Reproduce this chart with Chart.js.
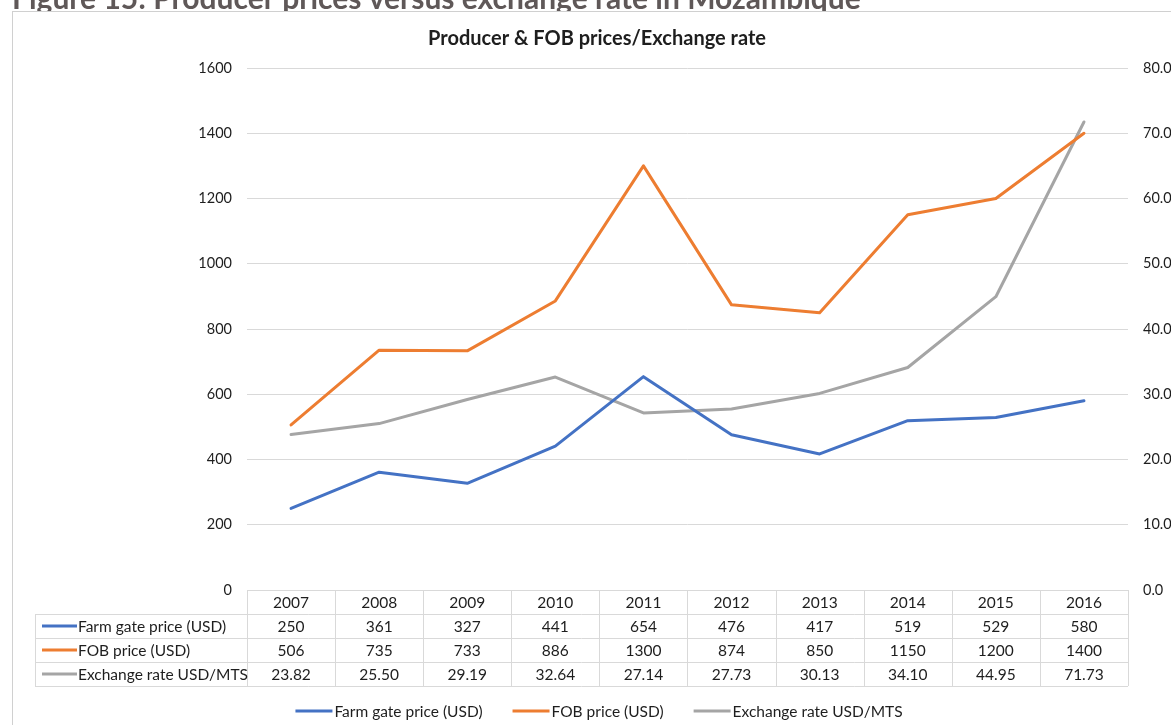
<!DOCTYPE html>
<html>
<head>
<meta charset="utf-8">
<script src="https://cdn.jsdelivr.net/npm/chart.js@4.4.1/dist/chart.umd.min.js"></script>
<style>
  html, body { margin: 0; padding: 0; background: #fff; overflow: hidden; }
  #wrap { position: relative; width: 1171px; height: 725px; overflow: hidden; }
  canvas { position: absolute; left: 0; top: 0; }
</style>
</head>
<body>
<div id="wrap"><canvas id="c" width="1200" height="725"></canvas></div>
<script>
const caption = 'Figure 15: Producer prices versus exchange rate in Mozambique';
const chartTitle = 'Producer & FOB prices/Exchange rate';
const years = ['2007','2008','2009','2010','2011','2012','2013','2014','2015','2016'];
const farmGate = [250, 361, 327, 441, 654, 476, 417, 519, 529, 580];
const fobPrice = [506, 735, 733, 886, 1300, 874, 850, 1150, 1200, 1400];
const exchangeRate = [23.82, 25.50, 29.19, 32.64, 27.14, 27.73, 30.13, 34.10, 44.95, 71.73];
const seriesNames = ['Farm gate price (USD)', 'FOB price (USD)', 'Exchange rate USD/MTS'];
const seriesColors = ['#4472C4', '#ED7D31', '#A5A5A5'];
const leftTicks = [0, 200, 400, 600, 800, 1000, 1200, 1400, 1600];
const rightTicks = [0, 10, 20, 30, 40, 50, 60, 70, 80];

const FONT = 'Lato, "Open Sans", sans-serif';
const TEXT = '#1e1e1e';

const tableRows = [
  { name: seriesNames[0], color: seriesColors[0], values: farmGate.map(v => String(v)) },
  { name: seriesNames[1], color: seriesColors[1], values: fobPrice.map(v => String(v)) },
  { name: seriesNames[2], color: seriesColors[2], values: exchangeRate.map(v => v.toFixed(2)) }
];

const decor = {
  id: 'decor',
  beforeDraw(chart) {
    const ctx = chart.ctx;
    ctx.save();
    ctx.fillStyle = '#fff';
    ctx.fillRect(0, 0, chart.width, chart.height);
    ctx.fillStyle = '#5f5858';
    ctx.font = 'bold 30px ' + FONT;
    ctx.textAlign = 'left';
    ctx.textBaseline = 'alphabetic';
    ctx.fillText(caption, 12, 9);
    ctx.fillStyle = '#fff';
    ctx.fillRect(12, 11, 1300, 800);
    ctx.strokeStyle = '#d0d0d0';
    ctx.lineWidth = 1;
    ctx.strokeRect(12.5, 11.5, 1300, 800);
    ctx.fillStyle = TEXT;
    ctx.font = 'bold 20px ' + FONT;
    ctx.textAlign = 'center';
    ctx.textBaseline = 'middle';
    ctx.fillText(chartTitle, 597, 39);
    ctx.restore();
  },
  afterDraw(chart) {
    const ctx = chart.ctx;
    const xs = chart.scales.x;
    const area = chart.chartArea;
    const colW = xs.getPixelForValue(1) - xs.getPixelForValue(0);
    const tableLeft = 35;
    const colLeft = xs.getPixelForValue(0) - colW / 2;
    const colRight = xs.getPixelForValue(years.length - 1) + colW / 2;
    const top = area.bottom;
    const rowH = 24;
    ctx.save();
    ctx.strokeStyle = '#d9d9d9';
    ctx.lineWidth = 1;
    ctx.beginPath();
    ctx.moveTo(colLeft, Math.round(top) + 0.5);
    ctx.lineTo(colRight, Math.round(top) + 0.5);
    for (let r = 1; r <= 4; r++) {
      const y = Math.round(top + r * rowH) + 0.5;
      ctx.moveTo(tableLeft, y);
      ctx.lineTo(colRight, y);
    }
    for (let i = 0; i <= years.length; i++) {
      const x = Math.round(colLeft + i * colW) + 0.5;
      ctx.moveTo(x, top);
      ctx.lineTo(x, top + 4 * rowH);
    }
    ctx.moveTo(tableLeft + 0.5, top + rowH);
    ctx.lineTo(tableLeft + 0.5, top + 4 * rowH);
    ctx.stroke();

    ctx.fillStyle = TEXT;
    ctx.font = '15.5px ' + FONT;
    ctx.textBaseline = 'middle';
    ctx.textAlign = 'center';
    years.forEach((y, i) => ctx.fillText(y, xs.getPixelForValue(i), top + rowH / 2 + 1));
    tableRows.forEach((row, r) => {
      const cy = top + (r + 1) * rowH + rowH / 2 + 1;
      ctx.textAlign = 'center';
      ctx.fillStyle = TEXT;
      row.values.forEach((v, i) => ctx.fillText(v, xs.getPixelForValue(i), cy));
      ctx.strokeStyle = row.color;
      ctx.lineWidth = 3;
      ctx.beginPath();
      ctx.moveTo(42, cy - 1);
      ctx.lineTo(77, cy - 1);
      ctx.stroke();
      ctx.textAlign = 'left';
      ctx.fillText(row.name, 78, cy);
    });

    const ly = 711;
    ctx.font = '15.5px ' + FONT;
    const lineLen = 37, gap = 2, itemGap = 30;
    const widths = seriesNames.map(n => lineLen + gap + ctx.measureText(n).width);
    const total = widths.reduce((a, b) => a + b, 0) + itemGap * (seriesNames.length - 1);
    let lx = 599 - total / 2;
    seriesNames.forEach((n, i) => {
      ctx.strokeStyle = seriesColors[i];
      ctx.lineWidth = 3;
      ctx.beginPath();
      ctx.moveTo(lx, ly);
      ctx.lineTo(lx + lineLen, ly);
      ctx.stroke();
      ctx.fillStyle = TEXT;
      ctx.textAlign = 'left';
      ctx.textBaseline = 'middle';
      ctx.fillText(n, lx + lineLen + gap, ly + 1);
      lx += widths[i] + itemGap;
    });
    ctx.restore();
  }
};

new Chart(document.getElementById('c'), {
  type: 'line',
  data: {
    labels: years,
    datasets: [
      { label: seriesNames[0], data: farmGate, borderColor: seriesColors[0], yAxisID: 'y' },
      { label: seriesNames[1], data: fobPrice, borderColor: seriesColors[1], yAxisID: 'y' },
      { label: seriesNames[2], data: exchangeRate, borderColor: seriesColors[2], yAxisID: 'y1' }
    ]
  },
  options: {
    responsive: false,
    animation: false,
    devicePixelRatio: 1,
    elements: {
      line: { borderWidth: 3, tension: 0, borderCapStyle: 'round', borderJoinStyle: 'round' },
      point: { radius: 0, hoverRadius: 0 }
    },
    layout: { padding: { top: 68, left: 0, right: 0, bottom: 35 } },
    plugins: { legend: { display: false }, title: { display: false }, tooltip: { enabled: false } },
    scales: {
      x: {
        offset: true,
        grid: { display: false },
        border: { display: false },
        ticks: { display: false },
        afterFit(axis) { axis.height = 100; }
      },
      y: {
        position: 'left',
        min: 0, max: 1600,
        afterBuildTicks(axis) { axis.ticks = leftTicks.map(v => ({ value: v })); },
        grid: { color: '#d9d9d9', lineWidth: 1, drawTicks: false },
        border: { display: false },
        ticks: { padding: 15, color: TEXT, font: { family: FONT, size: 14.5 }, callback: v => String(v) },
        afterFit(axis) { axis.width = 247; }
      },
      y1: {
        position: 'right',
        min: 0, max: 80,
        afterBuildTicks(axis) { axis.ticks = rightTicks.map(v => ({ value: v })); },
        grid: { display: false, drawOnChartArea: false, drawTicks: false },
        border: { display: false },
        ticks: { padding: 15, color: TEXT, font: { family: FONT, size: 14.5 }, callback: v => Number(v).toFixed(1) },
        afterFit(axis) { axis.width = 72; }
      }
    }
  },
  plugins: [decor]
});
</script>
</body>
</html>
